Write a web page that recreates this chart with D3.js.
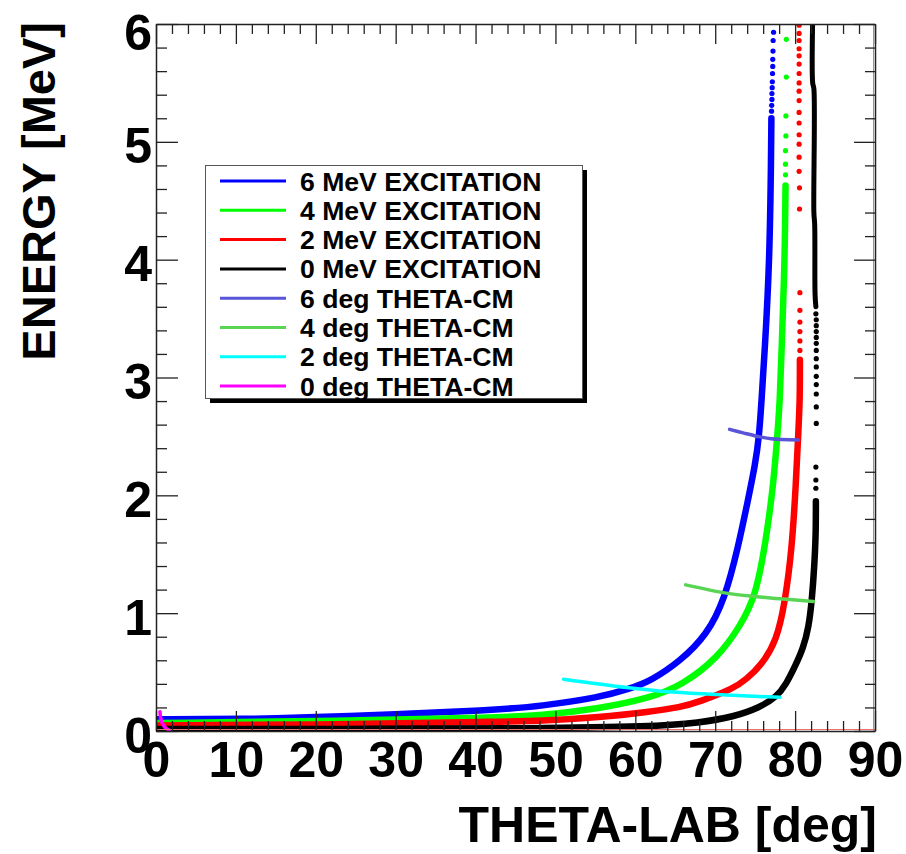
<!DOCTYPE html>
<html>
<head>
<meta charset="utf-8">
<script src="https://cdn.jsdelivr.net/npm/d3@7"></script>
<style>
  html, body { margin: 0; padding: 0; background: #fff; }
  svg { display: block; }
  text { font-family: "Liberation Sans", Arial, Helvetica, sans-serif; font-weight: bold; }
</style>
</head>
<body>
<svg id="chart" width="906" height="854"></svg>
<script>
// ---- data: lab energy vs lab angle -------------------------------------
const xTicks = [0, 10, 20, 30, 40, 50, 60, 70, 80, 90];
const yTicks = [0, 1, 2, 3, 4, 5, 6];
const xTitle = "THETA-LAB [deg]";
const yTitle = "ENERGY [MeV]";

// [theta_lab, energy] along each excitation curve (dense part)
const exc6Line = [[0,0.10],[10.5,0.10],[23,0.12],[43,0.18],[48,0.21],[55.6,0.285],[59.3,0.36],[61.8,0.42],[65.6,0.59],[69,0.82],[71.2,1.12],[72.9,1.57],[74.1,1.96],[75,2.26],[75.5,2.5],[75.8,2.81],[76.2,3.23],[76.8,3.97],[77.0,4.9],[77.03,5.2]];
const exc6Dots = [[77.05,5.26],[77.07,5.31],[77.1,5.36],[77.1,5.41],[77.13,5.46],[77.15,5.51],[77.17,5.58],[77.2,5.64],[77.2,5.70],[77.23,5.77],[77.25,5.86],[77.3,5.93]];

const exc4Line = [[0,0.068],[23,0.085],[43,0.116],[48,0.13],[55.6,0.19],[61.8,0.28],[65.8,0.385],[70.4,0.625],[73.1,0.89],[75,1.13],[76.3,1.59],[77.3,2.1],[77.8,2.53],[78.1,2.81],[78.3,3.23],[78.7,3.97],[78.8,4.63]];
const exc4Dots = [[78.8,4.72],[78.8,4.81],[78.8,4.925],[78.85,5.05],[78.85,5.22],[78.9,5.55],[78.9,5.87]];

const exc2Line = [[0,0.047],[23,0.055],[43,0.08],[48,0.085],[55.6,0.116],[61.8,0.164],[65.6,0.2],[68.1,0.25],[72.3,0.36],[73.9,0.44],[75.8,0.56],[77.7,0.77],[78.7,1.08],[79.6,1.54],[80.1,2.1],[80.4,2.53],[80.6,2.81],[80.6,3.15]];
const exc2Dots = [[80.6,3.23],[80.6,3.31],[80.6,3.39],[80.6,3.47],[80.6,3.57],[80.6,3.72],[80.55,4.43],[80.55,4.61],[80.5,4.75],[80.5,4.87],[80.5,4.98],[80.5,5.06],[80.5,5.16],[80.5,5.25],[80.5,5.35],[80.5,5.43],[80.5,5.50],[80.5,5.58],[80.5,5.66],[80.5,5.73],[80.5,5.79],[80.5,5.86],[80.5,5.92],[80.5,5.99]];

const exc0Line = [[0,0.017],[23,0.017],[48,0.023],[61.8,0.037],[68.1,0.07],[72.3,0.12],[75.6,0.2],[77.7,0.29],[78.9,0.40],[80.0,0.55],[81.0,0.70],[81.7,0.88],[82.1,1.11],[82.4,1.39],[82.6,1.68],[82.6,1.95]];
const exc0Dots = [[82.6,2.06],[82.6,2.13],[82.6,2.24],[82.65,2.61],[82.65,2.75],[82.65,2.86],[82.65,2.94],[82.65,3.01],[82.65,3.09],[82.65,3.16],[82.65,3.23],[82.65,3.29],[82.65,3.34],[82.65,3.39],[82.65,3.44],[82.65,3.49],[82.6,3.54]];
const exc0Upper = [[82.6,3.6],[82.5,3.7],[82.45,4.3],[82.35,4.4],[82.35,5.45],[82.2,5.5],[82.2,6.05]];

// constant centre-of-mass angle lines
const cm6 = [[71.8,2.56],[73.5,2.53],[75.3,2.50],[77.0,2.48],[80.4,2.47]];
const cm4 = [[66.3,1.24],[71.4,1.17],[75.2,1.14],[78.5,1.12],[82.3,1.10]];
const cm2 = [[51,0.44],[58.9,0.37],[64.7,0.33],[71.4,0.305],[78.1,0.286]];
const cm0 = [[0.5,0.164],[0.59,0.108],[0.84,0.059],[1.25,0.023],[1.66,0.008]];

const legendLabels = ["6 MeV EXCITATION","4 MeV EXCITATION","2 MeV EXCITATION","0 MeV EXCITATION",
                      "6 deg THETA-CM","4 deg THETA-CM","2 deg THETA-CM","0 deg THETA-CM"];
const legendColors = ["#0000ff","#00ff00","#ff0000","#000000","#5954d8","#59d454","#00ffff","#ff00ff"];

// ---- layout ------------------------------------------------------------
const svg = d3.select("#chart");
const X0 = 156, X1 = 875, Y0 = 24, Y1 = 731;
const x = d3.scaleLinear().domain([0, 90]).range([X0, X1]);
const y = d3.scaleLinear().domain([0, 6]).range([Y1, Y0]);

svg.append("defs").append("clipPath").attr("id", "plotclip")
  .append("rect").attr("x", X0).attr("y", Y0).attr("width", X1 - X0).attr("height", Y1 - Y0);

const plot = svg.append("g").attr("clip-path", "url(#plotclip)");
const smooth = d3.line().x(d => x(d[0])).y(d => y(d[1])).curve(d3.curveBasis);
const line = d3.line().x(d => x(d[0])).y(d => y(d[1])).curve(d3.curveCatmullRom.alpha(0.5));

// excitation curves: blue, green, red, black (black drawn last)
const excitation = [
  { col: legendColors[0], line: exc6Line, dots: exc6Dots },
  { col: legendColors[1], line: exc4Line, dots: exc4Dots },
  { col: legendColors[2], line: exc2Line, dots: exc2Dots },
  { col: legendColors[3], line: exc0Line, dots: exc0Dots, upper: exc0Upper }
];
excitation.forEach(c => {
  plot.append("path").attr("d", smooth(c.line)).attr("fill", "none")
    .attr("stroke", c.col).attr("stroke-width", 6.5).attr("stroke-linecap", "round");
  if (c.upper) {
    plot.append("path").attr("d", line(c.upper)).attr("fill", "none")
      .attr("stroke", c.col).attr("stroke-width", 5).attr("stroke-linecap", "round");
  }
  plot.selectAll(null).data(c.dots).enter().append("circle")
    .attr("cx", d => x(d[0])).attr("cy", d => y(d[1])).attr("r", 2.6).attr("fill", c.col);
});

// constant theta-CM lines
[[cm6, legendColors[4]], [cm4, legendColors[5]], [cm2, legendColors[6]], [cm0, legendColors[7]]].forEach(([pts, col]) => {
  plot.append("path").attr("d", line(pts)).attr("fill", "none")
    .attr("stroke", col).attr("stroke-width", 3.5).attr("stroke-linecap", "round");
});

// ---- frame and axes ----------------------------------------------------
svg.append("line").attr("x1", X1 - 1.5).attr("x2", X1 - 1.5).attr("y1", Y0).attr("y2", Y1)
  .attr("stroke", "#f07070").attr("stroke-width", 1);
svg.append("line").attr("x1", X0).attr("x2", X1).attr("y1", Y1 - 1.5).attr("y2", Y1 - 1.5)
  .attr("stroke", "#f07070").attr("stroke-width", 1);

const xMinor = d3.range(0, 91, 2).filter(v => v % 10 !== 0);
const yMinor = d3.range(0, 31).map(v => v / 5).filter(v => Math.abs(v - Math.round(v)) > 1e-6);

function styleAxis(g) {
  g.selectAll("path.domain").attr("stroke", "#222").attr("stroke-width", 1.5);
  g.selectAll(".tick line").attr("stroke", "#222").attr("stroke-width", 1.3);
  g.selectAll(".tick text").attr("fill", "#000").style("font-size", "50px")
    .style("font-family", '"Liberation Sans", Arial, sans-serif').style("font-weight", "bold");
}

// bottom
const gxb = svg.append("g").attr("transform", `translate(0,${Y1})`)
  .call(d3.axisBottom(x).tickValues(xTicks).tickSize(-20).tickSizeOuter(0).tickPadding(10).tickFormat(d3.format("d")));
styleAxis(gxb);
const gxbm = svg.append("g").attr("transform", `translate(0,${Y1})`)
  .call(d3.axisBottom(x).tickValues(xMinor).tickSize(-10).tickSizeOuter(0).tickFormat(""));
styleAxis(gxbm); gxbm.select("path.domain").remove();

// top
const gxt = svg.append("g").attr("transform", `translate(0,${Y0})`)
  .call(d3.axisTop(x).tickValues(xTicks).tickSize(-20).tickSizeOuter(0).tickFormat(""));
styleAxis(gxt);
const gxtm = svg.append("g").attr("transform", `translate(0,${Y0})`)
  .call(d3.axisTop(x).tickValues(xMinor).tickSize(-10).tickSizeOuter(0).tickFormat(""));
styleAxis(gxtm); gxtm.select("path.domain").remove();

// left
const gyl = svg.append("g").attr("transform", `translate(${X0},0)`)
  .call(d3.axisLeft(y).tickValues(yTicks).tickSize(-22).tickSizeOuter(0).tickPadding(4).tickFormat(d3.format("d")));
styleAxis(gyl);
gyl.selectAll(".tick text").attr("dy", "0.42em");
gyl.selectAll(".tick text").filter(d => d === 6).attr("dy", "0.5em");
const gylm = svg.append("g").attr("transform", `translate(${X0},0)`)
  .call(d3.axisLeft(y).tickValues(yMinor).tickSize(-11).tickSizeOuter(0).tickFormat(""));
styleAxis(gylm); gylm.select("path.domain").remove();

// right
const gyr = svg.append("g").attr("transform", `translate(${X1},0)`)
  .call(d3.axisRight(y).tickValues(yTicks).tickSize(-21).tickSizeOuter(0).tickFormat(""));
styleAxis(gyr);
const gyrm = svg.append("g").attr("transform", `translate(${X1},0)`)
  .call(d3.axisRight(y).tickValues(yMinor).tickSize(-10).tickSizeOuter(0).tickFormat(""));
styleAxis(gyrm); gyrm.select("path.domain").remove();

// axis titles
svg.append("text").attr("x", 877).attr("y", 842).attr("text-anchor", "end")
  .style("font-size", "50px").attr("fill", "#000").text(xTitle);
svg.append("text").attr("transform", "translate(55,22) rotate(-90)").attr("text-anchor", "end")
  .style("font-size", "47px").attr("fill", "#000").text(yTitle);

// ---- legend ------------------------------------------------------------
const LX = 205, LY = 165, LW = 377, LH = 233;
svg.append("rect").attr("x", LX + 5).attr("y", LY + 5).attr("width", LW).attr("height", LH).attr("fill", "#000");
svg.append("rect").attr("x", LX + 0.5).attr("y", LY + 0.5).attr("width", LW).attr("height", LH)
  .attr("fill", "#fff").attr("stroke", "#555").attr("stroke-width", 1);
const rowY = i => 181 + i * 29.3;
const leg = svg.append("g");
legendLabels.forEach((lab, i) => {
  leg.append("line").attr("x1", 220).attr("x2", 286).attr("y1", rowY(i)).attr("y2", rowY(i))
    .attr("stroke", legendColors[i]).attr("stroke-width", 3);
  leg.append("text").attr("x", 300).attr("y", rowY(i)).attr("dy", "0.36em")
    .style("font-size", "26.6px").attr("fill", "#000").text(lab);
});
</script>
</body>
</html>
